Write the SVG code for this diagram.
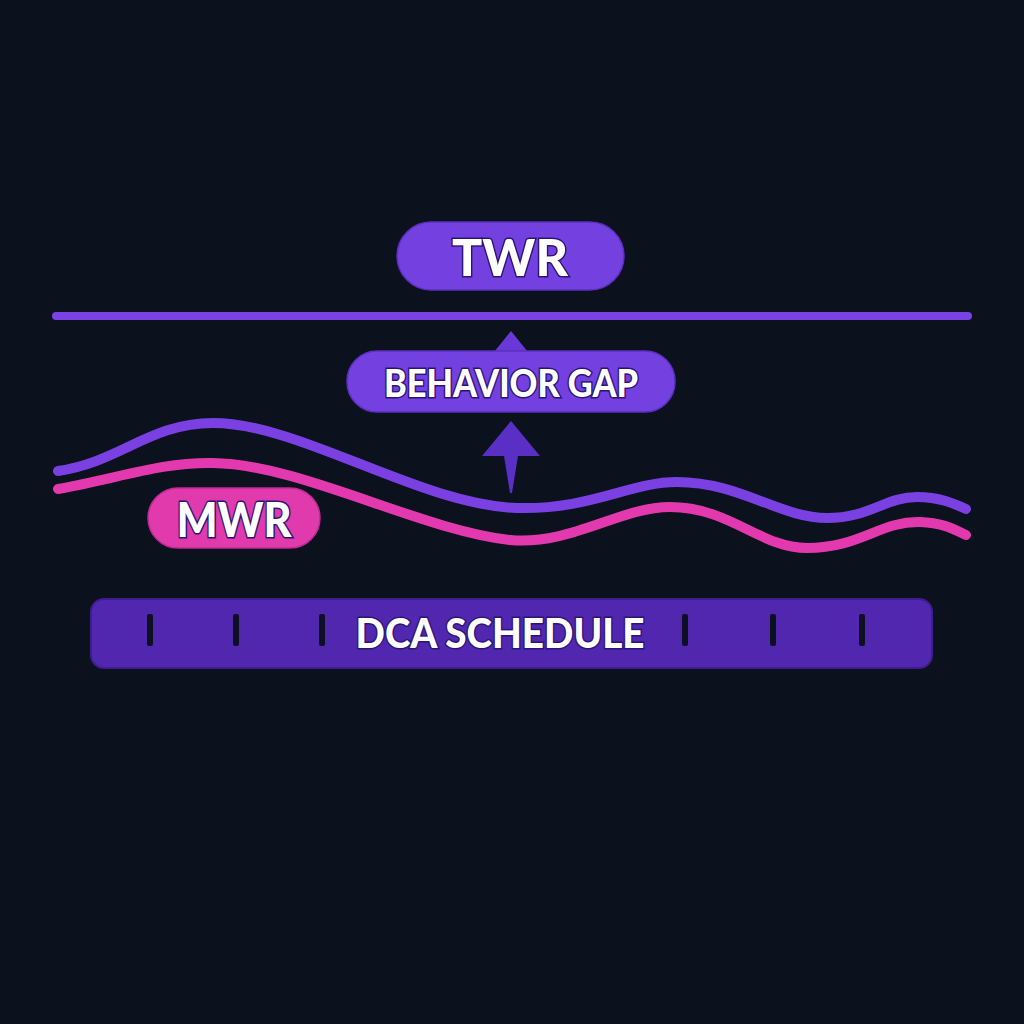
<svg xmlns="http://www.w3.org/2000/svg" width="1024" height="1024" viewBox="0 0 1024 1024">
  <defs>
    <style>
      .lbl { font-family: Lato, "Open Sans", "Liberation Sans", sans-serif; font-weight: 900; fill: #ffffff; stroke: #2b1577; stroke-width: 3; paint-order: stroke; text-anchor: middle; }
      .wave { fill: none; stroke-width: 10; stroke-linecap: round; stroke-linejoin: round; }
      .tick { fill: #0d1020; }
    </style>
  </defs>
  <rect width="1024" height="1024" fill="#0b111d"/>

  <g id="connectors">
    <line id="twr-line" x1="56" y1="316" x2="968" y2="316" stroke="#7a42e4" stroke-width="8" stroke-linecap="round"/>
    <path id="twr-wave" class="wave" stroke="#7a40e2" d="M58,471 C120,462 150,423 213,423 C300,423 420,505 517,508 C590,510 630,482 677,482 C740,482 780,518 827,518 C870,518 885,497 917,497 C940,497 955,504 966,509"/>
    <path id="mwr-wave" class="wave" stroke="#e23aae" d="M58,489 C120,478 160,462 213,463 C300,464 420,530 510,540 C570,546 620,507 670,507 C730,507 760,548 807,548 C860,548 880,521 920,522 C945,523 955,530 966,535"/>
    <polygon id="gap-arrow-up" points="511,331 528,352 494,352" fill="#6a38d8"/>
    <path id="gap-arrow" d="M511,421 L540,456 L518,456 L512,493 L510,493 L504,456 L482,456 Z" fill="#5a2fc6"/>
  </g>

  <g id="twr">
    <rect x="397" y="222" width="227" height="68" rx="34" fill="#7440e0" stroke="#5b2fc0" stroke-width="1.5"/>
    <text class="lbl" x="510" y="276" font-size="52" textLength="116" lengthAdjust="spacingAndGlyphs">TWR</text>
  </g>

  <g id="behavior-gap">
    <rect x="347" y="351" width="328" height="61" rx="30" fill="#7440e0" stroke="#5b2fc0" stroke-width="1.5"/>
    <text class="lbl" x="511" y="397" font-size="37" textLength="254" lengthAdjust="spacingAndGlyphs">BEHAVIOR GAP</text>
  </g>

  <g id="mwr">
    <rect x="148" y="488" width="172" height="60" rx="30" fill="#e03aad" stroke="#c02a92" stroke-width="1.5"/>
    <text class="lbl" x="234" y="537" font-size="47" textLength="115" lengthAdjust="spacingAndGlyphs" stroke="#8a1468">MWR</text>
  </g>

  <g id="dca-schedule">
    <rect x="91" y="599" width="841" height="69" rx="13" fill="#5227b0" stroke="#3f1d8e" stroke-width="2"/>
    <rect class="tick" x="147" y="614" width="6" height="32" rx="2"/>
    <rect class="tick" x="233" y="614" width="6" height="32" rx="2"/>
    <rect class="tick" x="319" y="614" width="6" height="32" rx="2"/>
    <rect class="tick" x="682" y="614" width="6" height="32" rx="2"/>
    <rect class="tick" x="770" y="614" width="6" height="32" rx="2"/>
    <rect class="tick" x="859" y="614" width="6" height="32" rx="2"/>
    <text class="lbl" x="500" y="648" font-size="41" textLength="289" lengthAdjust="spacingAndGlyphs">DCA SCHEDULE</text>
  </g>
</svg>
